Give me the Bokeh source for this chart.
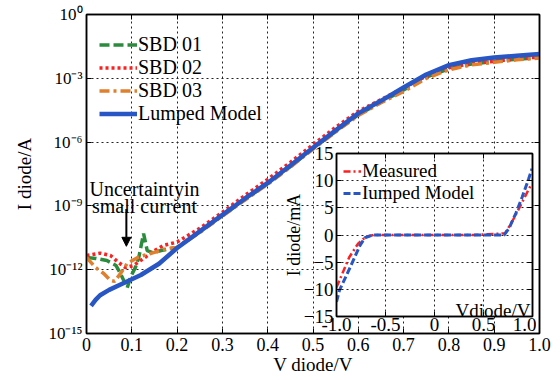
import numpy as np
from bokeh.plotting import figure
from bokeh.models import (Range1d, FixedTicker, LinearAxis, LogAxis, Label, Arrow,
                          NormalHead)
from bokeh.embed import file_html
from bokeh.resources import INLINE

FONT = "Liberation Serif"

# ---------------- main chart data (voltage in V, log10 of current in A) -------------
lumped_v = [0.01, 0.02, 0.03, 0.05, 0.08, 0.12, 0.16, 0.2, 0.25, 0.3, 0.35, 0.4, 0.45,
            0.5, 0.55, 0.6, 0.65, 0.7, 0.75, 0.8, 0.85, 0.9, 0.95, 1.0]
lumped_log10_i = [-13.7, -13.42, -13.2, -12.95, -12.65, -12.25, -11.72, -10.98, -10.2, -9.42,
                  -8.65, -7.92, -7.1, -6.27, -5.45, -4.65, -4.06, -3.43, -2.82, -2.38,
                  -2.15, -2.02, -1.94, -1.86]

sbd01_v = [0.0, 0.02, 0.045, 0.065, 0.075, 0.09, 0.097, 0.108, 0.115, 0.126, 0.134, 0.146,
           0.165, 0.2, 0.25, 0.3, 0.35, 0.4, 0.45, 0.5, 0.55, 0.6, 0.65, 0.7, 0.75, 0.8,
           0.85, 0.9, 0.95, 1.0]
sbd01_log10_i = [-11.42, -11.47, -11.57, -11.8, -12.18, -12.85, -12.36, -11.89, -11.47, -10.3,
                 -11.1, -11.2, -11.1, -10.95, -10.22, -9.45, -8.7, -7.95, -7.15, -6.3, -5.5,
                 -4.72, -4.12, -3.55, -2.95, -2.55, -2.33, -2.2, -2.1, -2.02]

sbd02_v = [0.0, 0.03, 0.053, 0.07, 0.086, 0.104, 0.126, 0.15, 0.17, 0.2, 0.25, 0.3, 0.35,
           0.4, 0.45, 0.5, 0.55, 0.6, 0.65, 0.7, 0.75, 0.8, 0.85, 0.9, 0.95, 1.0]
sbd02_log10_i = [-11.33, -11.22, -11.33, -11.65, -11.9, -11.8, -11.47, -11.1, -10.86, -10.7,
                 -10.05, -9.3, -8.5, -7.75, -6.95, -6.12, -5.3, -4.55, -4.0, -3.45, -2.9,
                 -2.5, -2.3, -2.2, -2.08, -2.0]

sbd03_v = [0.0, 0.02, 0.038, 0.053, 0.062, 0.075, 0.09, 0.115, 0.148, 0.178, 0.2, 0.25, 0.3,
           0.35, 0.4, 0.45, 0.5, 0.55, 0.6, 0.65, 0.7, 0.75, 0.8, 0.85, 0.9, 0.95, 1.0]
sbd03_log10_i = [-11.42, -11.9, -12.18, -12.5, -12.55, -12.18, -11.7, -11.4, -11.2, -11.0,
                 -10.95, -10.25, -9.48, -8.72, -7.98, -7.18, -6.33, -5.52, -4.75, -4.15,
                 -3.62, -3.0, -2.6, -2.37, -2.25, -2.13, -2.05]

x_ticks = [0.0, 0.1, 0.2, 0.3, 0.4, 0.5, 0.6, 0.7, 0.8, 0.9, 1.0]
x_tick_labels = ["0", "0.1", "0.2", "0.3", "0.4", "0.5", "0.6", "0.7", "0.8", "0.9", "1.0"]
y_ticks = [1e0, 1e-3, 1e-6, 1e-9, 1e-12, 1e-15]
y_tick_labels = ["10\u2070", "10\u207b\u00b3", "10\u207b\u2076", "10\u207b\u2079",
                 "10\u207b\u00b9\u00b2", "10\u207b\u00b9\u2075"]

# ---------------- inset data (voltage in V, current in mA) -------------
measured_v = [-1.0, -0.95, -0.87, -0.78, -0.7, -0.62, -0.4, 0.0, 0.4, 0.72, 0.79, 0.86,
              0.93, 0.99]
measured_i = [-9.6, -7.5, -4.1, -1.6, -0.3, 0.0, 0.0, 0.0, 0.0, 0.3, 2.4, 4.8, 7.3, 9.4]
model_v = [-1.0, -0.97, -0.9, -0.83, -0.76, -0.71, -0.63, -0.4, 0.0, 0.4, 0.71, 0.76, 0.83,
           0.895, 0.96, 0.995]
model_i = [-12.3, -10.2, -7.5, -4.7, -1.9, -0.5, 0.0, 0.0, 0.0, 0.0, 0.0, 1.2, 4.0, 7.0,
           10.3, 12.2]

inset_x_ticks = [-1.0, -0.5, 0.0, 0.5, 1.0]
inset_x_tick_labels = ["-1.0", "-0.5", "0", "0.5", "1.0"]
inset_y_ticks = [-15, -10, -5, 0, 5, 10, 15]

GREEN = "#2a8c3c"
RED = "#ff1f1f"
ORANGE = "#e07f2c"
BLUE = "#2856c4"

def amps(log_vals):
    return [10.0 ** v for v in log_vals]

# ================= main figure =================
p = figure(width=560, height=380, x_range=Range1d(0, 1), y_range=Range1d(1e-15, 1),
           y_axis_type="log", output_backend="svg", toolbar_location=None,
           min_border_left=86, min_border_right=21, min_border_top=14, min_border_bottom=47,
           background_fill_color="white", border_fill_color="white")
p.outline_line_color = "black"
p.outline_line_width = 1.5

def style_axis(ax, size, hidden=False):
    ax.major_tick_in = 5
    ax.major_tick_out = 0
    ax.minor_tick_line_color = None
    ax.axis_line_color = "black"
    ax.axis_line_width = 1.5
    ax.major_tick_line_color = "black"
    ax.major_label_text_font = FONT
    ax.major_label_text_font_size = size
    ax.major_label_text_color = None if hidden else "black"
    ax.axis_label_text_font = FONT
    ax.axis_label_text_font_style = "normal"
    ax.axis_label_text_color = "black"

xa = p.xaxis[0]
xa.ticker = FixedTicker(ticks=x_ticks)
xa.major_label_overrides = dict(zip(x_ticks, x_tick_labels))
style_axis(xa, "18px")
xa.major_label_standoff = 4
xa.axis_label = "V diode/V"
xa.axis_label_text_font_size = "19px"
xa.axis_label_standoff = 0

ya = p.yaxis[0]
ya.ticker = FixedTicker(ticks=y_ticks)
ya.major_label_overrides = dict(zip(y_ticks, y_tick_labels))
style_axis(ya, "17px")
ya.major_label_standoff = 4
ya.axis_label = "I diode/A"
ya.axis_label_text_font_size = "19px"
ya.axis_label_standoff = 10

top = LinearAxis(ticker=FixedTicker(ticks=x_ticks))
style_axis(top, "2px", hidden=True)
top.major_label_standoff = 0
p.add_layout(top, "above")
right = LogAxis(ticker=FixedTicker(ticks=y_ticks))
style_axis(right, "2px", hidden=True)
right.major_label_standoff = 0
p.add_layout(right, "right")

for g in (p.xgrid[0], p.ygrid[0]):
    g.grid_line_color = "#222222"
    g.grid_line_dash = "2 3"
    g.grid_line_width = 1
    g.minor_grid_line_color = None

p.line(sbd01_v, amps(sbd01_log10_i), line_color=GREEN, line_width=3.5, line_dash="10 4",
       legend_label="SBD 01")
p.line(sbd02_v, amps(sbd02_log10_i), line_color=RED, line_width=3.5, line_dash="3 3",
       legend_label="SBD 02")
p.line(sbd03_v, amps(sbd03_log10_i), line_color=ORANGE, line_width=3.5,
       line_dash="10 4 3 4", legend_label="SBD 03")
p.line(lumped_v, amps(lumped_log10_i), line_color=BLUE, line_width=4.5,
       legend_label="Lumped Model")

lg = p.legend[0]
lg.location = (13, 208)
lg.border_line_color = None
lg.background_fill_alpha = 0
lg.margin = 0
lg.padding = 4
lg.spacing = 0
lg.glyph_width = 38
lg.glyph_height = 23
lg.label_height = 23
lg.label_standoff = 1
lg.label_text_font = FONT
lg.label_text_font_size = "20px"
lg.label_text_color = "black"

# annotation
p.add_layout(Label(x=0.128, y=10 ** -8.2, text="Uncertaintyin", text_align="center",
                   text_baseline="alphabetic", text_font=FONT, text_font_size="20px",
                   text_color="black"))
p.add_layout(Label(x=0.128, y=10 ** -9.0, text="small current", text_align="center",
                   text_baseline="alphabetic", text_font=FONT, text_font_size="20px",
                   text_color="black"))
p.add_layout(Arrow(end=NormalHead(size=9, fill_color="black", line_color="black"),
                   x_start=0.088, y_start=10 ** -9.15, x_end=0.088, y_end=10 ** -10.9,
                   line_color="black", line_width=2))

# ================= inset figure =================
q = figure(width=266, height=201, x_range=Range1d(-1, 1), y_range=Range1d(-15, 15),
           output_backend="svg", toolbar_location=None,
           min_border_left=66, min_border_right=4, min_border_top=12, min_border_bottom=26,
           background_fill_color="white", border_fill_color=None)
q.outline_line_color = "black"
q.outline_line_width = 1.5

qx = q.xaxis[0]
qx.ticker = FixedTicker(ticks=inset_x_ticks)
qx.major_label_overrides = dict(zip(inset_x_ticks, inset_x_tick_labels))
style_axis(qx, "19px")
qx.major_label_standoff = 1
qy = q.yaxis[0]
qy.ticker = FixedTicker(ticks=inset_y_ticks)
style_axis(qy, "19px")
qy.major_label_standoff = 3
qy.axis_label = "I diode/mA"
qy.axis_label_text_font_size = "18px"
qy.axis_label_standoff = -3
qt = LinearAxis(ticker=FixedTicker(ticks=inset_x_ticks))
style_axis(qt, "2px", hidden=True)
qt.major_label_standoff = 0
q.add_layout(qt, "above")
qr = LinearAxis(ticker=FixedTicker(ticks=inset_y_ticks))
style_axis(qr, "2px", hidden=True)
qr.major_label_standoff = 0
q.add_layout(qr, "right")
for g in (q.xgrid[0], q.ygrid[0]):
    g.grid_line_color = "#222222"
    g.grid_line_dash = "2 3"
    g.grid_line_width = 1

q.line(measured_v, measured_i, line_color=RED, line_width=2.5, line_dash="7 3 2 3",
       legend_label="Measured")
q.line(model_v, model_i, line_color=BLUE, line_width=3, line_dash="7 3",
       legend_label="Iumped Model")
ql = q.legend[0]
ql.location = (7, 112)
ql.border_line_color = None
ql.background_fill_alpha = 0
ql.margin = 0
ql.padding = 4
ql.spacing = 0
ql.glyph_width = 18
ql.glyph_height = 20
ql.label_height = 20
ql.label_standoff = 1
ql.label_text_font = FONT
ql.label_text_font_size = "19px"
ql.label_text_color = "black"

q.add_layout(Label(x=0.98, y=-13.9, text="Vdiode/V", text_align="right",
                   text_baseline="alphabetic", text_font=FONT, text_font_size="19px",
                   text_color="black"))

q.styles = {"position": "absolute", "left": "270px", "top": "141px"}

open("out.html", "w").write(file_html([p, q], INLINE))
